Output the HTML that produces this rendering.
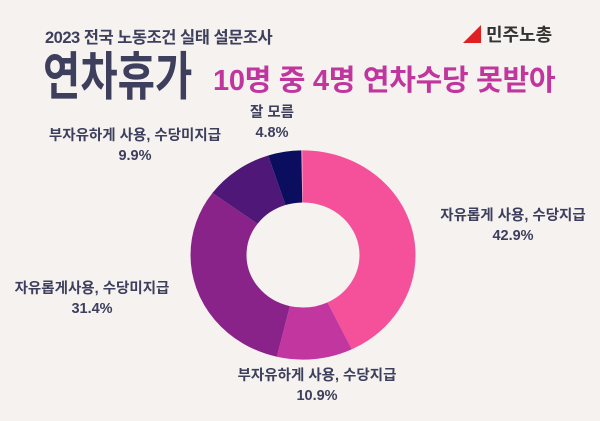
<!DOCTYPE html>
<html><head><meta charset="utf-8"><style>
html,body{margin:0;padding:0;background:#f5f2ef;}
body{width:600px;height:421px;overflow:hidden;position:relative;font-family:"Liberation Sans","Noto Sans CJK KR",sans-serif;}
.t{position:absolute;white-space:nowrap;color:#3d3f5c;font-weight:bold;}
.c{text-align:center;font-size:14.5px;line-height:20px;}
</style></head><body>
<div class="t" style="left:45px;top:24px;font-size:16.5px;letter-spacing:-0.5px;">2023 전국 노동조건 실태 설문조사</div>
<div class="t" style="left:43px;top:48px;font-size:52px;line-height:60px;transform:scaleX(0.78);transform-origin:0 0;">연차휴가</div>
<div class="t" style="left:213px;top:64px;font-size:29px;line-height:34px;color:#c0359e;letter-spacing:-0.3px;">10명 중 4명 연차수당 못받아</div>
<div class="t" style="left:463px;top:24px;font-size:18px;line-height:22px;color:#333;"><span style="color:#e02020;">◢</span> 민주노총</div>
<svg style="position:absolute;left:0;top:0" width="600" height="421">
<g transform="translate(303,255) scale(1,0.93) rotate(-90)">
<circle r="84.5" fill="none" stroke="#f5519b" stroke-width="56" pathLength="100" stroke-dasharray="42.9 57.1" stroke-dashoffset="0"/>
<circle r="84.5" fill="none" stroke="#c2379f" stroke-width="56" pathLength="100" stroke-dasharray="10.9 89.1" stroke-dashoffset="-42.9"/>
<circle r="84.5" fill="none" stroke="#8a2389" stroke-width="56" pathLength="100" stroke-dasharray="31.4 68.6" stroke-dashoffset="-53.8"/>
<circle r="84.5" fill="none" stroke="#4f1878" stroke-width="56" pathLength="100" stroke-dasharray="9.9 90.1" stroke-dashoffset="-85.2"/>
<circle r="84.5" fill="none" stroke="#0b0d5e" stroke-width="56" pathLength="100" stroke-dasharray="4.8 95.2" stroke-dashoffset="-95.1"/>
</g>
</svg>
<div class="t c" style="left:222px;top:103px;width:100px;">잘 모름<br>4.8%</div>
<div class="t c" style="left:35px;top:126px;width:200px;">부자유하게 사용, 수당미지급<br>9.9%</div>
<div class="t c" style="left:413px;top:206px;width:200px;">자유롭게 사용, 수당지급<br>42.9%</div>
<div class="t c" style="left:-8px;top:279px;width:200px;">자유롭게사용, 수당미지급<br>31.4%</div>
<div class="t c" style="left:217px;top:366px;width:200px;">부자유하게 사용, 수당지급<br>10.9%</div>
</body></html>
